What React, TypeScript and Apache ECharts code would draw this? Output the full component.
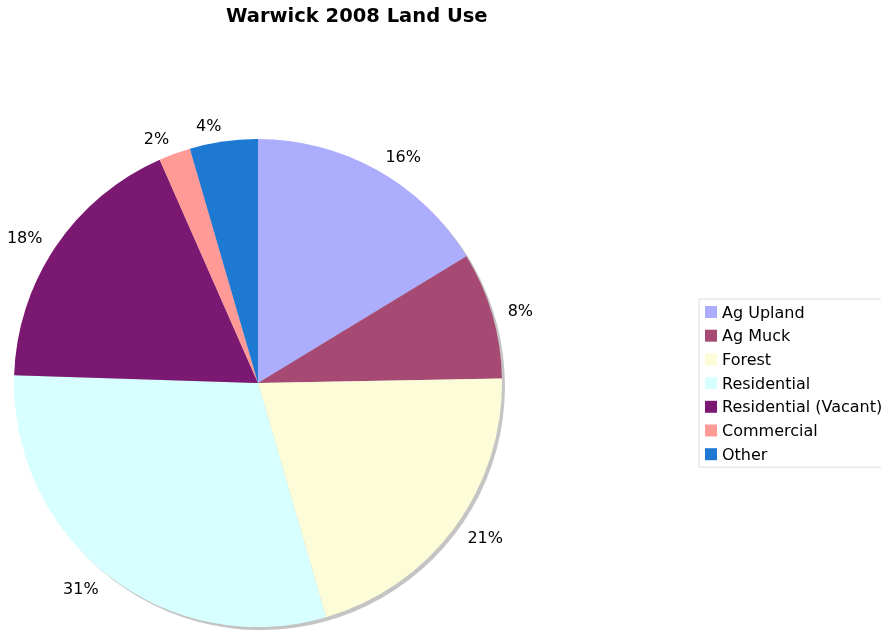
import React, { useEffect, useRef } from "react";
import * as echarts from "echarts";

const categories = ["Ag Upland", "Ag Muck", "Forest", "Residential", "Residential (Vacant)", "Commercial", "Other"];
const values = [16.3, 8.4, 20.8, 30.0, 17.9, 2.1, 4.5];
const percentLabels = ["16%", "8%", "21%", "31%", "18%", "2%", "4%"];
const colors = ["#adadfd", "#a64a74", "#fcfcd8", "#d8ffff", "#7b1972", "#ff9a96", "#1e79d3"];

export default function App() {
  const ref = useRef<HTMLDivElement>(null);
  useEffect(() => {
    const chart = echarts.init(ref.current!, null, { renderer: "svg" });
    const font = "DejaVu Sans, Verdana, sans-serif";
    chart.setOption({
      animation: false,
      title: {
        text: "Warwick 2008 Land Use",
        left: 221,
        top: 0,
        textStyle: { fontFamily: font, fontSize: 19.5, fontWeight: "bold", color: "#000" },
      },
      legend: {
        data: categories,
        orient: "vertical",
        left: 699,
        top: 299,
        padding: [5, 8, 5, 6],
        itemWidth: 12,
        itemHeight: 12,
        itemGap: 7.7,
        icon: "rect",
        borderColor: "#dddddd",
        borderWidth: 1,
        textStyle: { fontFamily: font, fontSize: 16, color: "#000", lineHeight: 16 },
        selectedMode: false,
      },
      series: [
        {
          type: "pie",
          name: "shadow",
          silent: true,
          center: [261, 386],
          radius: 244,
          label: { show: false },
          labelLine: { show: false },
          data: [{ name: "__shadow", value: 1, itemStyle: { color: "#c4c4c4" } }],
        },
        {
          type: "pie",
          center: [258, 383],
          radius: 244,
          startAngle: 90,
          clockwise: true,
          avoidLabelOverlap: false,
          data: categories.map((c, i) => ({ name: c, value: values[i], itemStyle: { color: colors[i] } })),
          label: {
            show: true,
            position: "outside",
            formatter: (p: any) => percentLabels[p.dataIndex],
            fontFamily: font,
            fontSize: 16,
            color: "#000",
            distanceToLabelLine: 0,
          },
          labelLine: { show: false, length: 16, length2: 0 },
          itemStyle: { borderWidth: 0 },
        },
      ],
    });
    return () => chart.dispose();
  }, []);
  return <div ref={ref} style={{ position: "fixed", left: 0, top: 0, width: 881, height: 630 }} />;
}
